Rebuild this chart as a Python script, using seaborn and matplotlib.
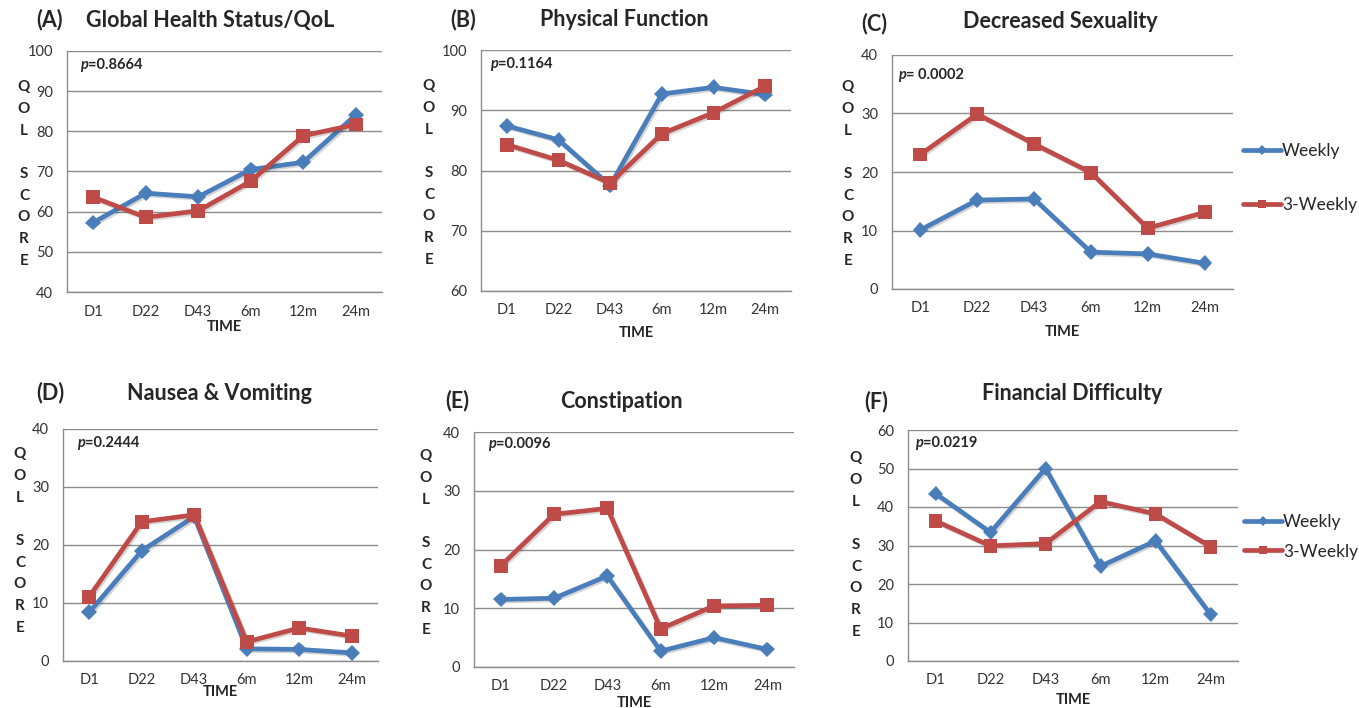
import numpy as np
import pandas as pd
import seaborn as sns
import matplotlib.pyplot as plt
import matplotlib.patheffects as pe

# time points and treatment arms
times = ['D1', 'D22', 'D43', '6m', '12m', '24m']
groups = ['Weekly', '3-Weekly']

glob_weekly = [57.3, 64.6, 63.7, 70.5, 72.3, 84.1]
glob_3weekly = [63.6, 58.6, 60.2, 67.6, 78.9, 81.7]
phys_weekly = [87.4, 85.1, 77.5, 92.7, 93.8, 92.6]
phys_3weekly = [84.3, 81.7, 77.9, 86.1, 89.6, 94.0]
sex_weekly = [10.1, 15.2, 15.4, 6.3, 6.0, 4.4]
sex_3weekly = [23.0, 29.9, 24.8, 19.9, 10.4, 13.1]
naus_weekly = [8.4, 19.0, 24.9, 2.1, 2.0, 1.4]
naus_3weekly = [11.1, 24.0, 25.2, 3.3, 5.7, 4.3]
const_weekly = [11.5, 11.7, 15.5, 2.7, 5.0, 3.0]
const_3weekly = [17.2, 26.0, 27.0, 6.5, 10.4, 10.5]
fin_weekly = [43.5, 33.4, 50.0, 24.6, 31.2, 12.1]
fin_3weekly = [36.4, 29.9, 30.5, 41.4, 38.2, 29.7]

letters = ['(A)', '(B)', '(C)', '(D)', '(E)', '(F)']
titles = ['Global Health Status/QoL', 'Physical Function', 'Decreased Sexuality',
          'Nausea & Vomiting', 'Constipation', 'Financial Difficulty']
p_values = ['=0.8664', '=0.1164', '= 0.0002', '=0.2444', '=0.0096', '=0.0219']
y_ranges = [(40, 100), (60, 100), (0, 40), (0, 40), (0, 40), (0, 60)]
series = [(glob_weekly, glob_3weekly), (phys_weekly, phys_3weekly),
          (sex_weekly, sex_3weekly), (naus_weekly, naus_3weekly),
          (const_weekly, const_3weekly), (fin_weekly, fin_3weekly)]

W, H = 1359, 708
BLUE = '#4A7EBB'
RED = '#BE4B48'
GRID = '#8C8C8C'

# layout in pixels: plot box (l, r, t, b), letter xy, title center xy,
# p text xy, QOL label xy, TIME y
layout = [
    dict(box=(67, 382, 51, 292), letter=(36, 20), title=(210, 20), p=(80, 65), qol=(24, 174), time=327),
    dict(box=(481, 791, 50, 291), letter=(450, 20), title=(624, 20), p=(490, 64), qol=(429, 173), time=333),
    dict(box=(892, 1233, 55, 289), letter=(861, 24), title=(1060, 22), p=(898, 75), qol=(848, 174), time=332),
    dict(box=(63, 378, 429, 661), letter=(36, 393), title=(219, 393), p=(77, 443), qol=(20, 541), time=692),
    dict(box=(474, 794, 432, 667), letter=(445, 401), title=(621, 401), p=(488, 444), qol=(426, 543), time=703),
    dict(box=(908, 1238, 430, 661), letter=(864, 402), title=(1072, 394), p=(915, 443), qol=(856, 545), time=700),
]
legend_pos = {2: ((1243, 178), 2.2), 5: ((1244, 537), 0.75)}

sns.set_theme(style='white')
plt.rcParams['font.family'] = ['Lato', 'DejaVu Sans']

fig = plt.figure(figsize=(W / 100, H / 100), dpi=100)


def fx(x):
    return x / W


def fy(y):
    return 1 - y / H


for i, lay in enumerate(layout):
    l, r, t, b = lay['box']
    ax = fig.add_axes([fx(l), fy(b), (r - l) / W, (b - t) / H])
    weekly, three = series[i]
    df = pd.DataFrame({
        'pos': list(range(len(times))) * 2,
        'score': weekly + three,
        'group': [groups[0]] * len(times) + [groups[1]] * len(times),
    })
    sns.lineplot(data=df, x='pos', y='score', hue='group', style='group',
                 hue_order=groups, style_order=groups,
                 palette={'Weekly': BLUE, '3-Weekly': RED},
                 markers={'Weekly': 'D', '3-Weekly': 's'}, dashes=False,
                 linewidth=3.4, markeredgewidth=0, ax=ax,
                 legend=(i in legend_pos))
    for ln in ax.lines:
        ln.set_markersize(8 if ln.get_marker() == 'D' else 10)
        ln.set_path_effects([pe.SimpleLineShadow(offset=(1.2, -1.2), alpha=0.18),
                             pe.Normal()])

    lo, hi = y_ranges[i]
    ax.set_ylim(lo, hi)
    ax.set_yticks(np.arange(lo, hi + 1, 10))
    ax.set_xlim(-0.5, len(times) - 0.5)
    ax.set_xticks(range(len(times)))
    ax.set_xticklabels(times)
    ax.yaxis.grid(True, color=GRID, linewidth=1)
    ax.set_axisbelow(True)
    for s in ['top', 'right']:
        ax.spines[s].set_visible(False)
    for s in ['left', 'bottom']:
        ax.spines[s].set_color(GRID)
        ax.spines[s].set_linewidth(1)
    ax.tick_params(axis='y', length=0, pad=10, labelsize=10.5, labelcolor='#333333')
    ax.tick_params(axis='x', length=0, pad=9, labelsize=10.5, labelcolor='#333333')
    ax.set_ylabel('')
    ax.set_xlabel('TIME', fontsize=10.5, fontweight='bold', va='center')
    ax.xaxis.set_label_coords(0.5, (b - lay['time']) / (b - t))

    if i in legend_pos:
        (lx, ly), sp = legend_pos[i]
        sns.move_legend(ax, 'center left', bbox_to_anchor=(fx(lx), fy(ly)),
                        bbox_transform=fig.transFigure, frameon=False, title=None,
                        fontsize=12.5, handlelength=2.2, handletextpad=0.05,
                        labelspacing=sp, borderpad=0, borderaxespad=0)
        for h in ax.get_legend().legend_handles:
            h.set_linewidth(3.4)
            h.set_markersize(5.5)

    fig.text(fx(lay['letter'][0]), fy(lay['letter'][1]), letters[i],
             fontsize=15.5, fontweight='bold', ha='left', va='center')
    fig.text(fx(lay['title'][0]), fy(lay['title'][1]), titles[i],
             fontsize=15.5, fontweight='bold', ha='center', va='center')
    pt = fig.text(fx(lay['p'][0]), fy(lay['p'][1]), 'p', fontsize=10.5,
                  fontweight='bold', style='italic', ha='left', va='center')
    fig.add_artist(plt.Annotation(p_values[i], xy=(1, 0.5), xycoords=pt,
                                  fontsize=10.5, fontweight='bold',
                                  ha='left', va='center'))
    fig.text(fx(lay['qol'][0]), fy(lay['qol'][1]), 'Q\nO\nL\n\nS\nC\nO\nR\nE',
             fontsize=11, fontweight='bold', ha='center', va='center',
             linespacing=1.7)

fig.savefig('out.png', dpi=100)
